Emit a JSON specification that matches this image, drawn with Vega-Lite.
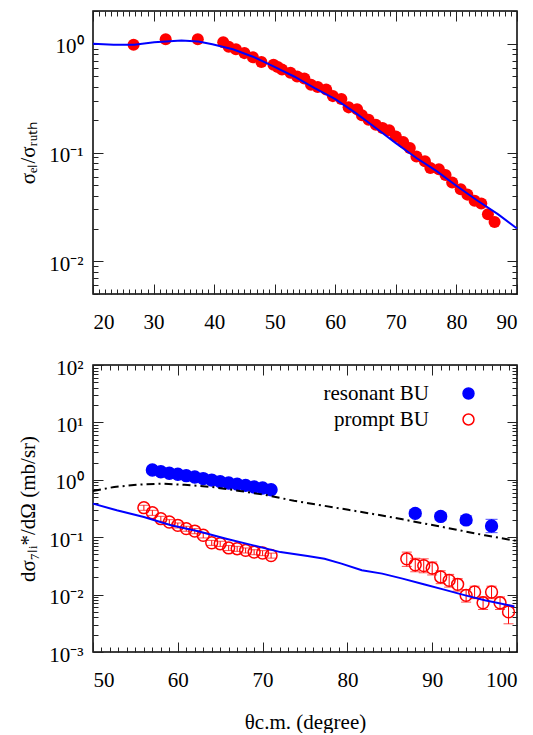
{
  "$schema": "https://vega.github.io/schema/vega-lite/v6.json",
  "padding": {"left": 16, "top": 9, "right": 0, "bottom": 0},
  "spacing": 23,
  "config": {
    "view": {"stroke": "black", "strokeWidth": 1.5},
    "font": "Liberation Serif",
    "axis": {"labelFont": "Liberation Serif", "labelFontSize": 21, "labelColor": "black", "titleFont": "Liberation Serif", "titleFontSize": 21, "titleFontWeight": "normal", "titleColor": "black", "grid": false, "domain": false, "tickColor": "#222222", "tickWidth": 1},
    "legend": {"labelFont": "Liberation Serif"}
  },
  "datasets": {
    "elastic": [
      {"theta": 26.7, "ratio": 0.98}, {"theta": 32.0, "ratio": 1.10}, {"theta": 37.3, "ratio": 1.10}, {"theta": 41.5, "ratio": 1.03},
      {"theta": 42.4, "ratio": 0.94}, {"theta": 43.6, "ratio": 0.89}, {"theta": 45.0, "ratio": 0.82}, {"theta": 46.4, "ratio": 0.75},
      {"theta": 47.8, "ratio": 0.68}, {"theta": 49.8, "ratio": 0.64}, {"theta": 50.5, "ratio": 0.61}, {"theta": 51.2, "ratio": 0.58},
      {"theta": 52.6, "ratio": 0.54}, {"theta": 53.7, "ratio": 0.50}, {"theta": 54.9, "ratio": 0.48}, {"theta": 56.0, "ratio": 0.42},
      {"theta": 57.1, "ratio": 0.40}, {"theta": 58.5, "ratio": 0.38}, {"theta": 59.6, "ratio": 0.33}, {"theta": 61.0, "ratio": 0.31},
      {"theta": 62.2, "ratio": 0.26}, {"theta": 63.6, "ratio": 0.25}, {"theta": 64.4, "ratio": 0.22}, {"theta": 65.5, "ratio": 0.20},
      {"theta": 66.7, "ratio": 0.18}, {"theta": 67.8, "ratio": 0.168}, {"theta": 68.9, "ratio": 0.16}, {"theta": 70.0, "ratio": 0.14},
      {"theta": 71.2, "ratio": 0.125}, {"theta": 72.3, "ratio": 0.11}, {"theta": 73.4, "ratio": 0.092}, {"theta": 74.8, "ratio": 0.083},
      {"theta": 75.7, "ratio": 0.072}, {"theta": 77.1, "ratio": 0.070}, {"theta": 78.2, "ratio": 0.062}, {"theta": 79.3, "ratio": 0.053},
      {"theta": 80.7, "ratio": 0.046}, {"theta": 81.8, "ratio": 0.041}, {"theta": 83.0, "ratio": 0.036}, {"theta": 84.1, "ratio": 0.034},
      {"theta": 85.2, "ratio": 0.027}, {"theta": 86.3, "ratio": 0.023}
    ],
    "elastic_th": [
      {"theta": 20, "ratio": 1.0}, {"theta": 23.4, "ratio": 0.98}, {"theta": 26.8, "ratio": 0.98}, {"theta": 30.1, "ratio": 1.03},
      {"theta": 34.6, "ratio": 1.07}, {"theta": 37.4, "ratio": 1.05}, {"theta": 39.7, "ratio": 0.99}, {"theta": 43.1, "ratio": 0.89},
      {"theta": 46.4, "ratio": 0.76}, {"theta": 49.8, "ratio": 0.62}, {"theta": 53.2, "ratio": 0.50}, {"theta": 56.6, "ratio": 0.39},
      {"theta": 60.0, "ratio": 0.31}, {"theta": 63.4, "ratio": 0.23}, {"theta": 66.7, "ratio": 0.168}, {"theta": 70.0, "ratio": 0.122},
      {"theta": 73.4, "ratio": 0.089}, {"theta": 76.8, "ratio": 0.067}, {"theta": 80.1, "ratio": 0.049}, {"theta": 83.5, "ratio": 0.036},
      {"theta": 86.9, "ratio": 0.027}, {"theta": 90, "ratio": 0.020}
    ],
    "res": [
      {"theta": 57, "v": 1.48, "lo": 1.406, "hi": 1.554, "series": "resonant BU"},
      {"theta": 58, "v": 1.38, "lo": 1.311, "hi": 1.449, "series": "resonant BU"},
      {"theta": 59, "v": 1.30, "lo": 1.235, "hi": 1.365, "series": "resonant BU"},
      {"theta": 60, "v": 1.25, "lo": 1.188, "hi": 1.313, "series": "resonant BU"},
      {"theta": 61, "v": 1.18, "lo": 1.121, "hi": 1.239, "series": "resonant BU"},
      {"theta": 62, "v": 1.12, "lo": 1.064, "hi": 1.176, "series": "resonant BU"},
      {"theta": 63, "v": 1.05, "lo": 0.998, "hi": 1.103, "series": "resonant BU"},
      {"theta": 64, "v": 0.99, "lo": 0.941, "hi": 1.040, "series": "resonant BU"},
      {"theta": 65, "v": 0.93, "lo": 0.884, "hi": 0.977, "series": "resonant BU"},
      {"theta": 66, "v": 0.88, "lo": 0.836, "hi": 0.924, "series": "resonant BU"},
      {"theta": 67, "v": 0.84, "lo": 0.798, "hi": 0.882, "series": "resonant BU"},
      {"theta": 68, "v": 0.80, "lo": 0.760, "hi": 0.840, "series": "resonant BU"},
      {"theta": 69, "v": 0.75, "lo": 0.713, "hi": 0.788, "series": "resonant BU"},
      {"theta": 70, "v": 0.72, "lo": 0.684, "hi": 0.756, "series": "resonant BU"},
      {"theta": 71, "v": 0.67, "lo": 0.637, "hi": 0.704, "series": "resonant BU"},
      {"theta": 88, "v": 0.26, "lo": 0.23, "hi": 0.30, "series": "resonant BU"},
      {"theta": 91, "v": 0.23, "lo": 0.20, "hi": 0.265, "series": "resonant BU"},
      {"theta": 94, "v": 0.20, "lo": 0.175, "hi": 0.235, "series": "resonant BU"},
      {"theta": 97, "v": 0.157, "lo": 0.12, "hi": 0.205, "series": "resonant BU"}
    ],
    "prompt": [
      {"theta": 56, "v": 0.327, "lo": 0.294, "hi": 0.36, "series": "prompt BU"},
      {"theta": 57, "v": 0.267, "lo": 0.240, "hi": 0.294, "series": "prompt BU"},
      {"theta": 58, "v": 0.21, "lo": 0.189, "hi": 0.231, "series": "prompt BU"},
      {"theta": 59, "v": 0.184, "lo": 0.166, "hi": 0.202, "series": "prompt BU"},
      {"theta": 60, "v": 0.161, "lo": 0.145, "hi": 0.177, "series": "prompt BU"},
      {"theta": 61, "v": 0.141, "lo": 0.127, "hi": 0.155, "series": "prompt BU"},
      {"theta": 62, "v": 0.128, "lo": 0.115, "hi": 0.141, "series": "prompt BU"},
      {"theta": 63, "v": 0.108, "lo": 0.097, "hi": 0.119, "series": "prompt BU"},
      {"theta": 64, "v": 0.080, "lo": 0.072, "hi": 0.088, "series": "prompt BU"},
      {"theta": 65, "v": 0.077, "lo": 0.069, "hi": 0.085, "series": "prompt BU"},
      {"theta": 66, "v": 0.065, "lo": 0.0585, "hi": 0.0715, "series": "prompt BU"},
      {"theta": 67, "v": 0.063, "lo": 0.0567, "hi": 0.0693, "series": "prompt BU"},
      {"theta": 68, "v": 0.059, "lo": 0.0531, "hi": 0.0649, "series": "prompt BU"},
      {"theta": 69, "v": 0.055, "lo": 0.0495, "hi": 0.0605, "series": "prompt BU"},
      {"theta": 70, "v": 0.053, "lo": 0.0477, "hi": 0.0583, "series": "prompt BU"},
      {"theta": 71, "v": 0.048, "lo": 0.0432, "hi": 0.0528, "series": "prompt BU"},
      {"theta": 87, "v": 0.042, "lo": 0.031, "hi": 0.055, "series": "prompt BU"},
      {"theta": 88, "v": 0.033, "lo": 0.025, "hi": 0.043, "series": "prompt BU"},
      {"theta": 89, "v": 0.032, "lo": 0.024, "hi": 0.042, "series": "prompt BU"},
      {"theta": 90, "v": 0.029, "lo": 0.022, "hi": 0.037, "series": "prompt BU"},
      {"theta": 91, "v": 0.0203, "lo": 0.0155, "hi": 0.026, "series": "prompt BU"},
      {"theta": 92, "v": 0.0177, "lo": 0.0135, "hi": 0.0225, "series": "prompt BU"},
      {"theta": 93, "v": 0.0151, "lo": 0.0115, "hi": 0.019, "series": "prompt BU"},
      {"theta": 94, "v": 0.0097, "lo": 0.0074, "hi": 0.0122, "series": "prompt BU"},
      {"theta": 95, "v": 0.0111, "lo": 0.0085, "hi": 0.014, "series": "prompt BU"},
      {"theta": 96, "v": 0.0072, "lo": 0.0055, "hi": 0.0091, "series": "prompt BU"},
      {"theta": 97, "v": 0.0111, "lo": 0.0085, "hi": 0.014, "series": "prompt BU"},
      {"theta": 98, "v": 0.0072, "lo": 0.0055, "hi": 0.0091, "series": "prompt BU"},
      {"theta": 99, "v": 0.005, "lo": 0.0031, "hi": 0.0065, "series": "prompt BU"}
    ],
    "res_th": [
      {"theta": 50, "v": 0.64}, {"theta": 52.5, "v": 0.75}, {"theta": 55.2, "v": 0.82}, {"theta": 58.0, "v": 0.855},
      {"theta": 60.8, "v": 0.82}, {"theta": 64.0, "v": 0.75}, {"theta": 67.3, "v": 0.64}, {"theta": 70.5, "v": 0.54},
      {"theta": 73.7, "v": 0.43}, {"theta": 76.9, "v": 0.36}, {"theta": 80.1, "v": 0.30}, {"theta": 83.3, "v": 0.25},
      {"theta": 86.5, "v": 0.205}, {"theta": 89.8, "v": 0.165}, {"theta": 93.0, "v": 0.134}, {"theta": 96.2, "v": 0.108},
      {"theta": 100, "v": 0.086}
    ],
    "prompt_th": [
      {"theta": 50, "v": 0.384}, {"theta": 52.8, "v": 0.294}, {"theta": 56.0, "v": 0.225}, {"theta": 59.2, "v": 0.161},
      {"theta": 62.4, "v": 0.127}, {"theta": 65.7, "v": 0.094}, {"theta": 68.9, "v": 0.072}, {"theta": 72.1, "v": 0.055},
      {"theta": 75.3, "v": 0.047}, {"theta": 77.3, "v": 0.042}, {"theta": 79.3, "v": 0.0347}, {"theta": 81.7, "v": 0.0265},
      {"theta": 84.1, "v": 0.0232}, {"theta": 86.5, "v": 0.019}, {"theta": 89.0, "v": 0.0151}, {"theta": 91.4, "v": 0.0122},
      {"theta": 93.8, "v": 0.0098}, {"theta": 96.2, "v": 0.0080}, {"theta": 99.7, "v": 0.0062}
    ]
  },
  "vconcat": [
    {
      "width": 424,
      "height": 283,
      "layer": [
        {
          "data": {"name": "elastic"},
          "mark": {"type": "point", "shape": "circle", "filled": true, "color": "#ff0000", "opacity": 1, "size": 145},
          "encoding": {
            "x": {"field": "theta", "type": "quantitative", "scale": {"domain": [20, 90], "nice": false, "zero": false},
                  "axis": {"orient": "bottom", "values": [20, 30, 40, 50, 60, 70, 80, 90], "tickSize": -10, "labelPadding": 27, "labelFont": "Liberation Serif", "labelFontSize": 21, "title": null}},
            "y": {"field": "ratio", "type": "quantitative", "scale": {"type": "log", "domain": [0.005, 2], "nice": false},
                  "axis": {"orient": "left", "values": [0.01, 0.1, 1], "tickSize": -10, "labelPadding": 20, "labelOffset": 3, "labelFont": "Liberation Serif", "labelFontSize": 21, "labelExpr": "datum.value == 1 ? '10⁰' : datum.value == 0.1 ? '10⁻¹' : '10⁻²'", "title": "σₑₗ/σᵣᵤₜₕ", "titleFont": "Liberation Serif", "titleFontSize": 21, "titleFontWeight": "normal", "titlePadding": 10}}
          }
        },
        {
          "data": {"name": "elastic_th"},
          "mark": {"type": "line", "color": "#0000ff", "strokeWidth": 2},
          "encoding": {
            "x": {"field": "theta", "type": "quantitative", "axis": {"orient": "top", "values": [20, 30, 40, 50, 60, 70, 80, 90], "tickSize": -10, "labels": false, "title": null}},
            "y": {"field": "ratio", "type": "quantitative", "axis": {"orient": "right", "values": [0.01, 0.1, 1], "tickSize": -10, "labels": false, "title": null}}
          }
        },
        {
          "data": {"name": "elastic_th"},
          "mark": {"type": "point", "opacity": 0},
          "encoding": {
            "x": {"field": "theta", "type": "quantitative", "axis": {"orient": "bottom", "values": [21,22,23,24,25,26,27,28,29,31,32,33,34,35,36,37,38,39,41,42,43,44,45,46,47,48,49,51,52,53,54,55,56,57,58,59,61,62,63,64,65,66,67,68,69,71,72,73,74,75,76,77,78,79,81,82,83,84,85,86,87,88,89], "tickSize": -5, "labels": false, "title": null}},
            "y": {"field": "ratio", "type": "quantitative", "axis": {"orient": "left", "values": [0.005,0.006,0.007,0.008,0.009,0.02,0.03,0.04,0.05,0.06,0.07,0.08,0.09,0.2,0.3,0.4,0.5,0.6,0.7,0.8,0.9,2], "tickSize": -5, "labels": false, "title": null}}
          }
        },
        {
          "data": {"name": "elastic_th"},
          "mark": {"type": "point", "opacity": 0},
          "encoding": {
            "x": {"field": "theta", "type": "quantitative", "axis": {"orient": "top", "values": [21,22,23,24,25,26,27,28,29,31,32,33,34,35,36,37,38,39,41,42,43,44,45,46,47,48,49,51,52,53,54,55,56,57,58,59,61,62,63,64,65,66,67,68,69,71,72,73,74,75,76,77,78,79,81,82,83,84,85,86,87,88,89], "tickSize": -5, "labels": false, "title": null}},
            "y": {"field": "ratio", "type": "quantitative", "axis": {"orient": "right", "values": [0.005,0.006,0.007,0.008,0.009,0.02,0.03,0.04,0.05,0.06,0.07,0.08,0.09,0.2,0.3,0.4,0.5,0.6,0.7,0.8,0.9,2], "tickSize": -5, "labels": false, "title": null}}
          }
        }
      ],
      "resolve": {"axis": {"x": "independent", "y": "independent"}}
    },
    {
      "width": 424,
      "height": 287,
      "layer": [
        {
          "data": {"name": "res"},
          "mark": {"type": "errorbar", "ticks": {"size": 12}, "color": "#0000ff", "thickness": 1},
          "encoding": {
            "x": {"field": "theta", "type": "quantitative", "axis": null},
            "y": {"field": "lo", "type": "quantitative", "axis": null},
            "y2": {"field": "hi"}
          }
        },
        {
          "data": {"name": "prompt"},
          "mark": {"type": "errorbar", "ticks": {"size": 10, "strokeDash": [2, 2]}, "color": "#ff0000", "thickness": 1},
          "encoding": {
            "x": {"field": "theta", "type": "quantitative", "axis": null},
            "y": {"field": "lo", "type": "quantitative", "axis": null},
            "y2": {"field": "hi"}
          }
        },
        {
          "data": {"name": "res"},
          "mark": {"type": "point", "shape": "circle", "filled": true, "opacity": 1, "size": 140, "strokeWidth": 1.5},
          "encoding": {
            "x": {"field": "theta", "type": "quantitative", "scale": {"domain": [50, 100], "nice": false, "zero": false},
                  "axis": {"orient": "bottom", "values": [50, 60, 70, 80, 90, 100], "tickSize": -10, "labelPadding": 27, "labelFont": "Liberation Serif", "labelFontSize": 21, "title": "θc.m. (degree)", "titleFont": "Liberation Serif", "titleFontSize": 21, "titleFontWeight": "normal", "titlePadding": 21}},
            "y": {"field": "v", "type": "quantitative", "scale": {"type": "log", "domain": [0.001, 100], "nice": false},
                  "axis": {"orient": "left", "values": [0.001, 0.01, 0.1, 1, 10, 100], "tickSize": -10, "labelPadding": 20, "labelOffset": 3, "labelFont": "Liberation Serif", "labelFontSize": 21, "labelExpr": "['10⁻³','10⁻²','10⁻¹','10⁰','10¹','10²'][round(log(datum.value)/LN10)+3]", "title": "dσ₇ₗᵢ*/dΩ (mb/sr)", "titleFont": "Liberation Serif", "titleFontSize": 21, "titleFontWeight": "normal", "titlePadding": 10}},
            "fill": {"field": "series", "type": "nominal", "scale": {"domain": ["resonant BU", "prompt BU"], "range": ["#0000ff", "transparent"]},
                     "legend": {"title": null, "orient": "none", "legendX": 365, "legendY": 372, "labelAlign": "right", "labelOffset": -50, "labelFont": "Liberation Serif", "labelFontSize": 21, "labelColor": "black", "symbolSize": 120, "symbolStrokeWidth": 1.5, "rowPadding": 4}},
            "stroke": {"field": "series", "type": "nominal", "scale": {"domain": ["resonant BU", "prompt BU"], "range": ["#0000ff", "#ff0000"]},
                     "legend": {"title": null, "orient": "none", "legendX": 365, "legendY": 372, "labelAlign": "right", "labelOffset": -50, "labelFont": "Liberation Serif", "labelFontSize": 21, "labelColor": "black", "symbolSize": 120, "symbolStrokeWidth": 1.5, "rowPadding": 4}}
          }
        },
        {
          "data": {"name": "prompt"},
          "mark": {"type": "point", "shape": "circle", "filled": true, "opacity": 1, "size": 140, "strokeWidth": 1.5},
          "encoding": {
            "x": {"field": "theta", "type": "quantitative", "axis": {"orient": "top", "values": [50, 60, 70, 80, 90, 100], "tickSize": -10, "labels": false, "title": null}},
            "y": {"field": "v", "type": "quantitative", "axis": {"orient": "right", "values": [0.001, 0.01, 0.1, 1, 10, 100], "tickSize": -10, "labels": false, "title": null}},
            "fill": {"field": "series", "type": "nominal"},
            "stroke": {"field": "series", "type": "nominal"}
          }
        },
        {
          "data": {"name": "prompt_th"},
          "mark": {"type": "line", "color": "#0000ff", "strokeWidth": 2},
          "encoding": {
            "x": {"field": "theta", "type": "quantitative", "axis": {"orient": "bottom", "values": [51,52,53,54,55,56,57,58,59,61,62,63,64,65,66,67,68,69,71,72,73,74,75,76,77,78,79,81,82,83,84,85,86,87,88,89,91,92,93,94,95,96,97,98,99], "tickSize": -5, "labels": false, "title": null}},
            "y": {"field": "v", "type": "quantitative", "axis": {"orient": "left", "values": [0.002,0.003,0.004,0.005,0.006,0.007,0.008,0.009,0.02,0.03,0.04,0.05,0.06,0.07,0.08,0.09,0.2,0.3,0.4,0.5,0.6,0.7,0.8,0.9,2,3,4,5,6,7,8,9,20,30,40,50,60,70,80,90], "tickSize": -5, "labels": false, "title": null}}
          }
        },
        {
          "data": {"name": "res_th"},
          "mark": {"type": "line", "color": "black", "strokeWidth": 2, "strokeDash": [8, 4, 2, 4]},
          "encoding": {
            "x": {"field": "theta", "type": "quantitative", "axis": {"orient": "top", "values": [51,52,53,54,55,56,57,58,59,61,62,63,64,65,66,67,68,69,71,72,73,74,75,76,77,78,79,81,82,83,84,85,86,87,88,89,91,92,93,94,95,96,97,98,99], "tickSize": -5, "labels": false, "title": null}},
            "y": {"field": "v", "type": "quantitative", "axis": {"orient": "right", "values": [0.002,0.003,0.004,0.005,0.006,0.007,0.008,0.009,0.02,0.03,0.04,0.05,0.06,0.07,0.08,0.09,0.2,0.3,0.4,0.5,0.6,0.7,0.8,0.9,2,3,4,5,6,7,8,9,20,30,40,50,60,70,80,90], "tickSize": -5, "labels": false, "title": null}}
          }
        }
      ],
      "resolve": {"axis": {"x": "independent", "y": "independent"}}
    }
  ]
}
